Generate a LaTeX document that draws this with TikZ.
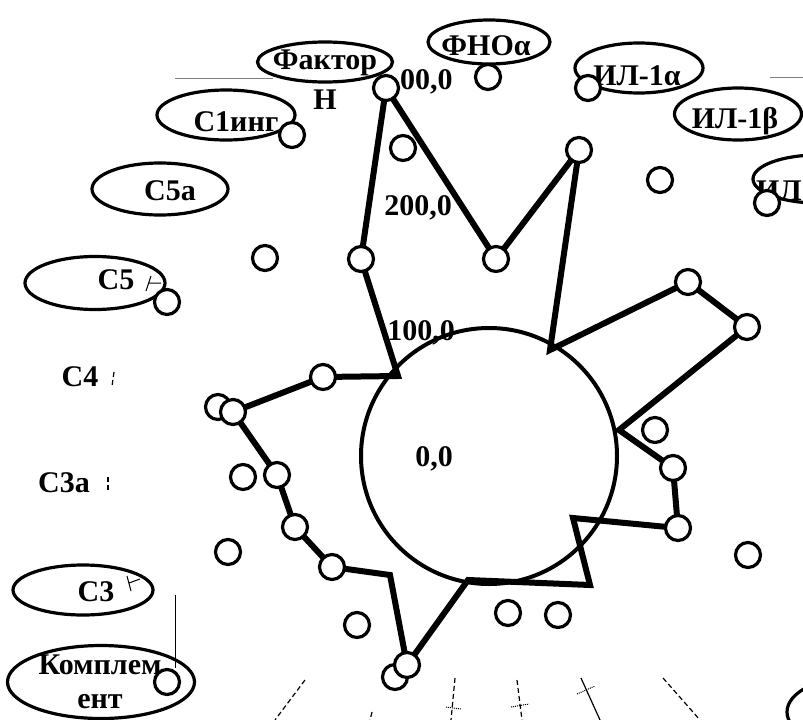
\documentclass[tikz,border=0pt]{standalone}
\usepackage{fontspec}
\setmainfont{Liberation Serif}
\usetikzlibrary{shapes.geometric}

\begin{document}
\begin{tikzpicture}[x=1pt, y=-1pt,
    mk/.style={circle, draw, fill=white, line width=3.2pt, minimum size=25pt, inner sep=0pt},
    oval/.style={ellipse, draw, line width=3.2pt, inner sep=0pt},
    txt/.style={font=\fontsize{30}{32}\selectfont\bfseries, inner sep=0pt},
    data/.style={line width=6pt, line join=miter},
    ax/.style={line width=1.2pt, dashed, dash pattern=on 5pt off 3pt},
    tick/.style={line width=1pt}]
    \useasboundingbox (0,0) rectangle (803,720);
    \clip (0,0) rectangle (803,720);

    % leftover grid lines
    \draw[gray, line width=0.8pt] (175,78) -- (273,78);
    \draw[gray, line width=0.8pt] (770,77) -- (803,77);
    \draw[tick] (175,595) -- (175,668);

    % label ovals
    \node[oval, minimum width=135, minimum height=40] (fh) at (325,62) {};
    \node[txt] (fht) at (325,63) {Фактор};
    \node[txt] (fhn) at (325,100) {Н};
    \node[oval, minimum width=122, minimum height=44] (tnf) at (489,42) {};
    \node[txt] (tnft) at (486,46) {ФНОα};
    \node[oval, minimum width=128, minimum height=50] (ila) at (639,68) {};
    \node[txt] (ilat) at (637,76) {ИЛ-1α};
    \node[oval, minimum width=127, minimum height=52] (ilb) at (738,114) {};
    \node[txt] (ilbt) at (735,121) {ИЛ-1β};
    \node[oval, minimum width=130, minimum height=48] (ilc) at (818,179) {};
    \node[txt, anchor=east] (ilct) at (802,191) {ИЛ};
    \node[oval, minimum width=138, minimum height=50] (cing) at (226,115) {};
    \node[txt] (cingt) at (236,122) {С1инг};
    \node[oval, minimum width=136, minimum height=52] (cfa) at (160,189) {};
    \node[txt] (cfat) at (170,191) {С5а};
    \node[oval, minimum width=140, minimum height=53] (cf) at (95,283) {};
    \node[txt] (cft) at (116,280) {С5};
    \node[txt] (c4t) at (80,377) {С4};
    \node[txt] (c3at) at (64,483) {С3а};
    \node[oval, minimum width=140, minimum height=50] (ct) at (83,590) {};
    \node[txt] (ctt) at (96,592) {С3};
    \node[oval, minimum width=187, minimum height=73] (kom) at (101,682) {};
    \node[txt] (komt) at (100,665) {Комплем};
    \node[txt] (komu) at (100,702) {ент};
    \node[oval, minimum width=136, minimum height=70] (bot) at (855,712) {};

    % axis stubs
    \draw[tick] (146,291) -- (151,276) (148,283) -- (161,283);
    \draw[tick] (127,576) -- (131,591) (129,583) -- (140,579);
    \draw[ax] (114,372) -- (112,386);
    \draw[ax] (108,477) -- (108,490);
    \draw[ax] (305,680) -- (275,720);
    \draw[ax] (372,712) -- (370,720);
    \draw[ax] (455,678) -- (451,720);
    \draw[tick, densely dotted] (446,707) -- (461,709);
    \draw[ax] (517,680) -- (522,720);
    \draw[tick, densely dotted] (511,707) -- (529,704);
    \draw[line width=1.2pt] (581,678) -- (600,720);
    \draw[tick, densely dotted] (577,694) -- (595,686);
    \draw[ax] (663,678) -- (700,720);

    % scale
    \node[txt, anchor=west] (s300) at (400,82) {00,0};
    \node[txt] (s200) at (418,208) {200,0};
    \node[txt] (s100) at (421,333) {100,0};
    \node[txt] (s0) at (434,459) {0,0};
    \draw[line width=4pt] (489,456) circle[radius=128];

    % data polygon
    \coordinate (top) at (386,88);
    \coordinate (c1) at (398,376);
    \coordinate (c2) at (550,350);
    \coordinate (c3) at (619,430);
    \coordinate (c4) at (573,518);
    \coordinate (c5) at (590,585);
    \coordinate (c6) at (468,580);
    \coordinate (c7) at (390,575);
    \coordinate (a1) at (361,259);
    \coordinate (a2) at (496,259);
    \coordinate (a3) at (579,150);
    \coordinate (a4) at (688,282);
    \coordinate (a5) at (747,327);
    \coordinate (a6) at (673,468);
    \coordinate (a7) at (678,528);
    \coordinate (a8) at (407,665);
    \coordinate (a9) at (332,567);
    \coordinate (a10) at (295,527);
    \coordinate (a11) at (277,475);
    \coordinate (a12) at (233,412);
    \coordinate (a13) at (323,377);
    \draw[data] (c1) -- (a1) -- (top) -- (a2) -- (a3) -- (c2) -- (a4) -- (a5) -- (c3) -- (a6) -- (a7) -- (c4) -- (c5) -- (c6) -- (a8) -- (c7) -- (a9) -- (a10) -- (a11) -- (a12) -- (a13) -- cycle;

    % markers
    \foreach \p [count=\i] in {(488,77),(292,135),(403,148),(588,88),(660,180),(767,203),(265,258),(167,302),(218,407),(655,430),(748,555),(243,477),(228,552),(357,625),(508,613),(558,615),(395,677),(167,682)}
        \node[mk] (solo\i) at \p {};
    \foreach \p in {top,a1,a2,a3,a4,a5,a6,a7,a8,a9,a10,a11,a12,a13}
        \node[mk] (m-\p) at (\p) {};
\end{tikzpicture}
\end{document}
